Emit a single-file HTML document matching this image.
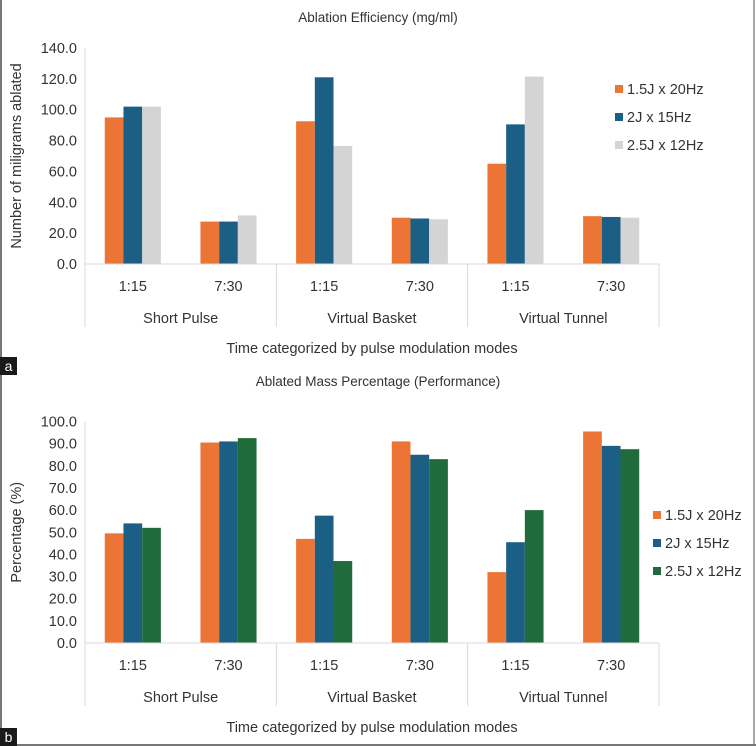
<!DOCTYPE html>
<html><head><meta charset="utf-8"><style>
html,body{margin:0;padding:0;background:#fff}
svg{display:block;font-family:"Liberation Sans",Arial,sans-serif}
</style></head><body>
<svg id="c" width="756" height="746" viewBox="0 0 756 746">
<rect x="0" y="0" width="756" height="746" fill="#fff"/>
<line x1="1" y1="0" x2="1" y2="746" stroke="#777" stroke-width="2"/>
<line x1="754" y1="0" x2="754" y2="746" stroke="#888" stroke-width="1.5"/>
<line x1="0" y1="745" x2="756" y2="745" stroke="#777" stroke-width="2"/>
<g id="a"></g><g id="b"></g>
</svg>
<script>
const categories=["1:15","7:30","1:15","7:30","1:15","7:30"];
const groups=["Short Pulse","Virtual Basket","Virtual Tunnel"];
const seriesNames=["1.5J x 20Hz","2J x 15Hz","2.5J x 12Hz"];
const a1=[95,27.5,92.5,30,65,31];
const a2=[102,27.5,121,29.5,90.5,30.5];
const a3=[102,31.5,76.5,29,121.5,30];
const aTicks=["0.0","20.0","40.0","60.0","80.0","100.0","120.0","140.0"];
const b1=[49.5,90.5,47,91,32,95.5];
const b2=[54,91,57.5,85,45.5,89];
const b3=[52,92.5,37,83,60,87.5];
const bTicks=["0.0","10.0","20.0","30.0","40.0","50.0","60.0","70.0","80.0","90.0","100.0"];
const NS="http://www.w3.org/2000/svg";
const FS=14.5;
function mk(p,t,at,txt){const e=document.createElementNS(NS,t);for(const k in at)e.setAttribute(k,at[k]);if(txt!=null)e.textContent=txt;p.appendChild(e);return e;}
function chart(gid,cfg){
  const g=document.getElementById(gid);
  const x0=85,x1=659,cw=(x1-x0)/categories.length;
  const maxV=+cfg.ticks[cfg.ticks.length-1];
  const y=v=>cfg.y0-(v/maxV)*(cfg.y0-cfg.yTop);
  let t=mk(g,'text',{x:378,y:cfg.titleY,'text-anchor':'middle','font-size':13.5,fill:'#333'},cfg.title);
  
  
  let ax=mk(g,'line',{x1:x0,y1:cfg.yTop,x2:x0,y2:cfg.y0,stroke:'#d9d9d9'});
  
  
  cfg.ticks.forEach(tk=>{
    const e=mk(g,'text',{x:77,y:y(+tk)+5,'text-anchor':'end','font-size':FS,fill:'#333'},tk);
    
    
  });
  const yt=mk(g,'text',{x:0,y:0,transform:`translate(21,${(cfg.y0+cfg.yTop)/2}) rotate(-90)`,'text-anchor':'middle','font-size':FS,fill:'#333'},cfg.yTitle);
  
  
  const cols=cfg.colors,ser=cfg.series,bw=18.7;
  categories.forEach((c,i)=>{
    const cx=x0+cw*(i+0.5);
    ser.forEach((s,j)=>{
      const bx=cx-bw*1.5+j*bw;
      const r=mk(g,'rect',{x:bx,y:y(s[i]),width:bw,height:cfg.y0-y(s[i]),fill:cols[j]});
      
      
    });
    const l=mk(g,'text',{x:cx,y:cfg.y0+27,'text-anchor':'middle','font-size':FS,fill:'#333'},c);
    
    
  });
  const xa=mk(g,'line',{x1:x0,y1:cfg.y0,x2:x1,y2:cfg.y0,stroke:'#d9d9d9'});
  
  
  for(let k=0;k<=groups.length;k++){
    const dx=x0+cw*2*k;
    const d=mk(g,'line',{x1:dx,y1:cfg.y0,x2:dx,y2:cfg.y0+63,stroke:'#d9d9d9'});
    
    
  }
  groups.forEach((gr,k)=>{
    const e=mk(g,'text',{x:x0+cw*(2*k+1),y:cfg.y0+59,'text-anchor':'middle','font-size':FS,fill:'#333'},gr);
    
    
  });
  const xt=mk(g,'text',{x:372,y:cfg.y0+89,'text-anchor':'middle','font-size':FS,fill:'#333'},'Time categorized by pulse modulation modes');
  
  
  seriesNames.forEach((n,j)=>{
    const ly=cfg.legY+j*28;
    const sq=mk(g,'rect',{x:cfg.legX,y:ly-4,width:8,height:8,fill:cols[j]});
    
    
    const e=mk(g,'text',{x:cfg.legX+12,y:ly+5,'font-size':FS,fill:'#333'},n);
    
    
  });
  const lb=mk(g,'rect',{x:0,y:cfg.labY,width:17,height:18,fill:'#1a1a1a'});
  
  
  const lt=mk(g,'text',{x:8.5,y:cfg.labY+14,'text-anchor':'middle','font-size':14,fill:'#fff'},cfg.label);
  
  
}
chart('a',{title:'Ablation Efficiency  (mg/ml)',titleY:22,yTop:48,y0:264,ticks:aTicks,yTitle:'Number of miligrams ablated',series:[a1,a2,a3],colors:['#ec7434','#1b5f84','#d4d4d4'],legX:615,legY:89,labY:357,label:'a'});
chart('b',{title:'Ablated Mass Percentage (Performance)',titleY:386,yTop:421.5,y0:643,ticks:bTicks,yTitle:'Percentage (%)',series:[b1,b2,b3],colors:['#ec7434','#1b5f84','#1f6b3a'],legX:653,legY:515,labY:728,label:'b'});
</script>
</body></html>
